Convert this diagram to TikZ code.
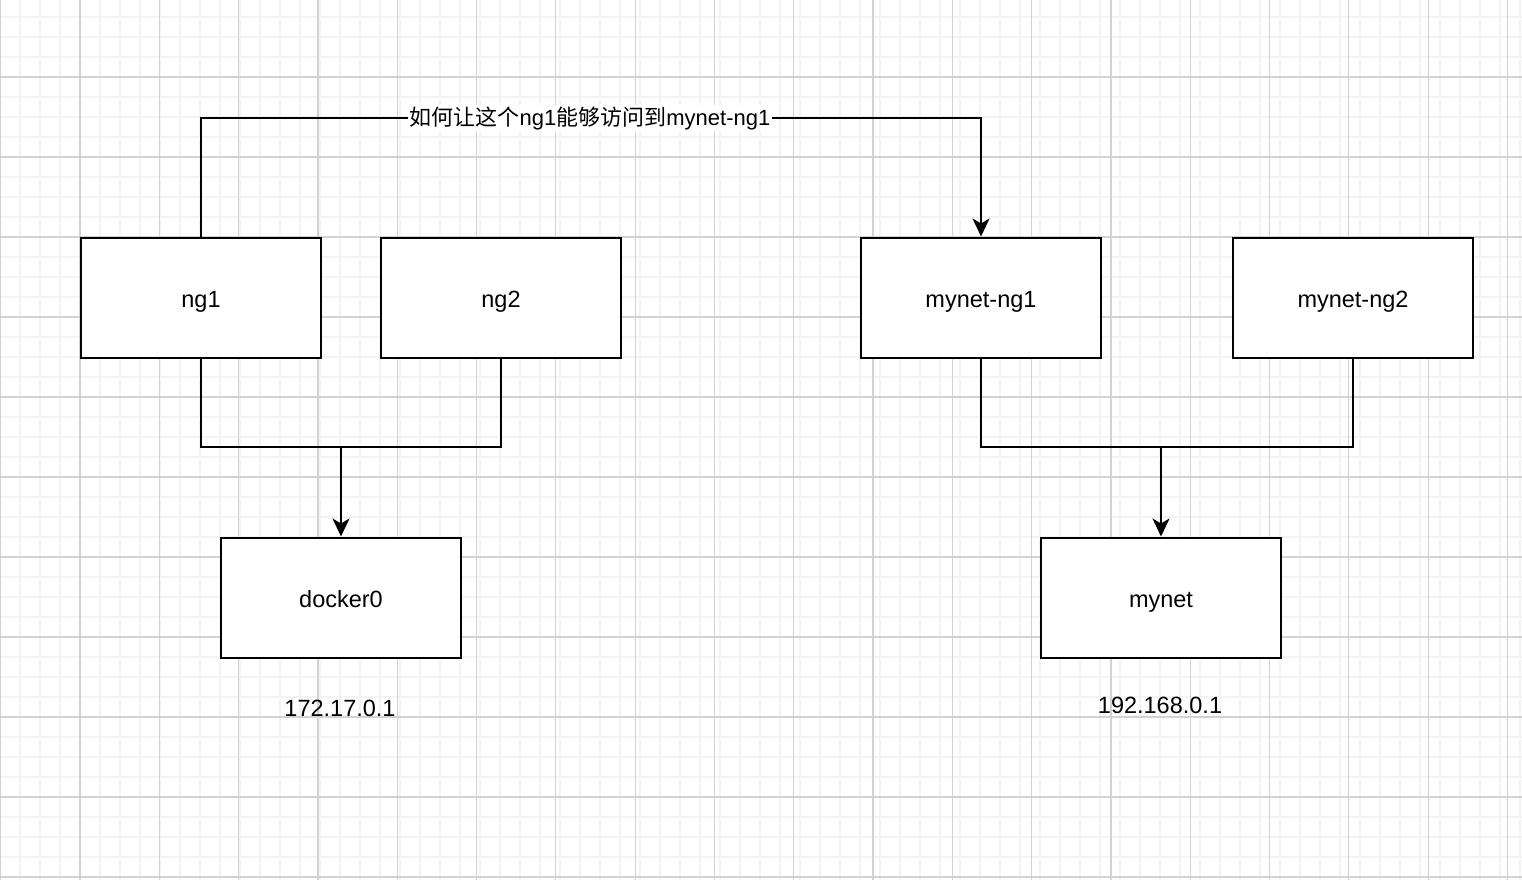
\documentclass[tikz,border=0pt]{standalone}
\usepackage{fontspec}
\setmainfont{Liberation Sans}
\newfontfamily\cjk{Noto Sans CJK SC}
\usepackage{tikz}
\usetikzlibrary{arrows.meta, positioning}
\definecolor{gridminor}{RGB}{243,243,243}
\definecolor{gridmajor}{RGB}{210,210,210}

\begin{document}
\begin{tikzpicture}[x=1pt, y=-1pt, >={Stealth[length=18pt, width=17pt, inset=5pt]},
    line width=2pt,
    netbox/.style={draw, fill=white, minimum width=240pt, minimum height=120pt,
                   inner sep=0pt, text height=24pt, text depth=4pt,
                   font=\fontsize{23.5}{28}\selectfont},
    iplabel/.style={anchor=base, font=\fontsize{23.5}{28}\selectfont}]
    \useasboundingbox (0,0) rectangle (1522,880);
    % grid
    \foreach \gx in {0,20,...,1520}
      \draw[gridminor, line width=1.6pt] (\gx,0) -- (\gx,880);
    \foreach \gy in {17,37,...,877}
      \draw[gridminor, line width=1.6pt] (0,\gy) -- (1522,\gy);
    \foreach \gx in {0.7,80,...,1520}
      \draw[gridmajor, line width=1.2pt] (\gx,0) -- (\gx,880);
    \foreach \gy in {77,157,...,877}
      \draw[gridmajor, line width=1.2pt] (0,\gy) -- (1522,\gy);
    % boxes
    \node[netbox] (ng1) at (201,297.5) {ng1};
    \node[netbox] (ng2) at (501,297.5) {ng2};
    \node[netbox] (mng1) at (981,297.5) {mynet-ng1};
    \node[netbox] (mng2) at (1353,297.5) {mynet-ng2};
    \node[netbox] (docker0) at (341,597.5) {docker0};
    \node[netbox] (mynet) at (1161,597.5) {mynet};
    % addresses
    \node[iplabel] (ipdocker) at (340,716) {172.17.0.1};
    \node[iplabel] (ipmynet) at (1160,713) {192.168.0.1};
    % links
    \coordinate (jleft) at (341,447);
    \coordinate (jright) at (1161,447);
    \draw (ng1.south) |- (jleft) -| (ng2.south);
    \draw[->] (jleft) -- (docker0.north);
    \draw (mng1.south) |- (jright) -| (mng2.south);
    \draw[->] (jright) -- (mynet.north);
    % question
    \node[fill=white, inner sep=1pt, font=\fontsize{22}{26}\selectfont]
      (ask) at (590,118) {{\cjk 如何让这个}ng1{\cjk 能够访问到}mynet-ng1};
    \draw (ng1.north) |- (ask.west);
    \draw[->] (ask.east) -| (mng1.north);
  \end{tikzpicture}
\end{document}
